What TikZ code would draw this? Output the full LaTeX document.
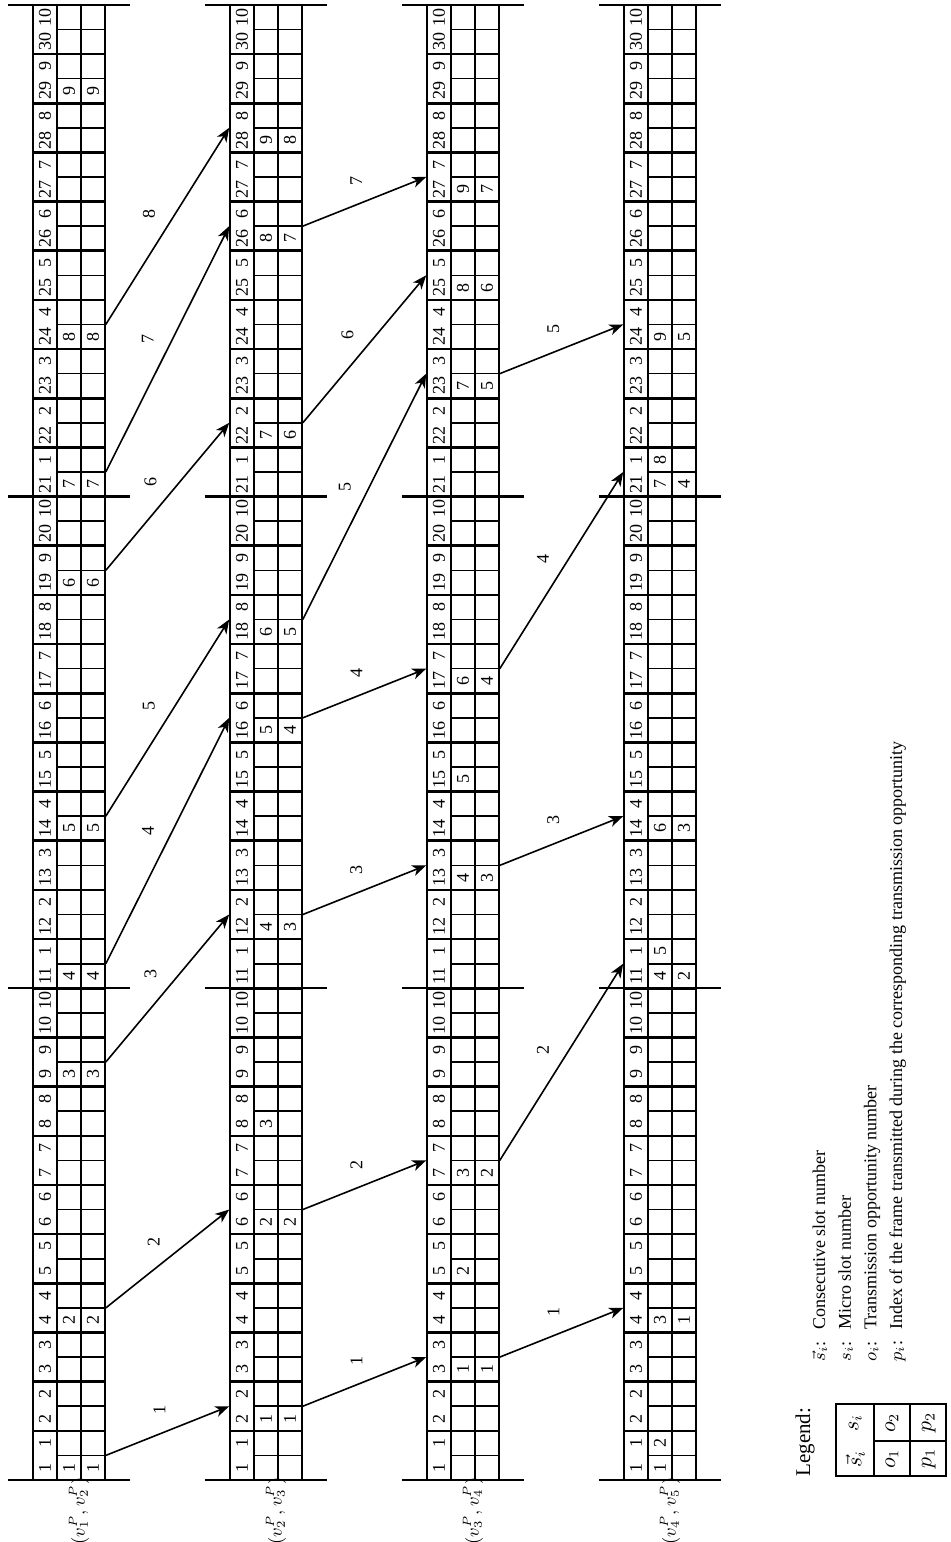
\documentclass[tikz,border=0pt]{standalone}
\usepackage{fontspec}
\setmainfont{Liberation Serif}
\usetikzlibrary{calc,arrows.meta}

\newcommand{\slotw}{49.17}

\begin{document}
\begin{tikzpicture}[x=0.5pt,y=0.5pt,rotate=90,transform shape,
  slot/.style={draw,line width=0.8pt,minimum width=24.585pt,minimum height=36pt,inner sep=0pt},
  cellline/.style={line width=0.8pt},
  slotsep/.style={line width=1.3pt},
  frame/.style={line width=1.1pt},
  num/.style={font=\fontsize{9}{10}\selectfont,inner sep=0pt},
  hoplbl/.style={font=\fontsize{9}{10}\selectfont,inner sep=0pt},
  lnk/.style={font=\fontsize{9}{10}\selectfont,inner sep=0pt},
  keytxt/.style={font=\fontsize{10.5}{12}\selectfont,inner sep=0pt},
  flow/.style={line width=0.8pt,-{Stealth[length=7pt,width=5.5pt,inset=2pt]}}]
\useasboundingbox (0,0) rectangle (1542,950);

\foreach \i in {1,...,4}{
  \pgfmathsetmacro{\yt}{917-197*(\i-1)}
  \foreach \k in {1,...,30}{
    \pgfmathsetmacro{\xl}{62+(\k-1)*\slotw}
    \pgfmathtruncatemacro{\m}{mod(\k-1,10)+1}
    \node[slot] (s\i-\k) at ({\xl+\slotw/2},{\yt-36}) {};
    \draw[cellline] (\xl,{\yt-24}) -- ++(\slotw,0) (\xl,{\yt-48}) -- ++(\slotw,0)
      ({\xl+\slotw/2},{\yt-24}) -- ({\xl+\slotw/2},{\yt-72});
    \draw[slotsep] (\xl,\yt) -- (\xl,{\yt-72});
    \node[num] at ({\xl+\slotw/4},{\yt-12}) {\k};
    \node[num] at ({\xl+3*\slotw/4},{\yt-12}) {\m};
  }
  \draw[slotsep] ({62+30*\slotw},\yt) -- ++(0,-72);
  \foreach \f in {0,10,20,30}
    \draw[frame] ({62+\f*\slotw},{\yt+25}) -- ({62+\f*\slotw},{\yt-97});
  \pgfmathtruncatemacro{\j}{\i+1}
  \node[lnk] (l\i) at (31,{\yt-46}) {$(v_{\i}^{P},v_{\j}^{P})$};
}

% o_1
\foreach \i/\k/\v in {1/1/1,1/4/2,1/9/3,1/11/4,1/14/5,1/19/6,1/21/7,1/24/8,1/29/9,
  2/2/1,2/6/2,2/8/3,2/12/4,2/16/5,2/18/6,2/22/7,2/26/8,2/28/9,
  3/3/1,3/5/2,3/7/3,3/13/4,3/15/5,3/17/6,3/23/7,3/25/8,3/27/9,
  4/1/1,4/4/3,4/11/4,4/14/6,4/21/7,4/24/9}
  \node[num] at ({62+(\k-1)*\slotw+\slotw/4},{917-197*(\i-1)-36}) {\v};
% o_2
\foreach \i/\k/\v in {4/1/2,4/11/5,4/21/8}
  \node[num] at ({62+(\k-1)*\slotw+3*\slotw/4},{917-197*(\i-1)-36}) {\v};
% p_1
\foreach \i/\k/\v in {1/1/1,1/4/2,1/9/3,1/11/4,1/14/5,1/19/6,1/21/7,1/24/8,1/29/9,
  2/2/1,2/6/2,2/12/3,2/16/4,2/18/5,2/22/6,2/26/7,2/28/8,
  3/3/1,3/7/2,3/13/3,3/17/4,3/23/5,3/25/6,3/27/7,
  4/4/1,4/11/2,4/14/3,4/21/4,4/24/5}
  \node[num] at ({62+(\k-1)*\slotw+\slotw/4},{917-197*(\i-1)-60}) {\v};

\foreach \i/\a/\b/\n in {1/1/2/1,1/4/6/2,1/9/12/3,1/11/16/4,1/14/18/5,1/19/22/6,1/21/26/7,1/24/28/8,
  2/2/3/1,2/6/7/2,2/12/13/3,2/16/17/4,2/18/23/5,2/22/25/6,2/26/27/7,
  3/3/4/1,3/7/11/2,3/13/14/3,3/17/21/4,3/23/24/5}{
  \pgfmathtruncatemacro{\j}{\i+1}
  \draw[flow] (s\i-\a.south) -- (s\j-\b.north);
  \node[hoplbl] at ($(s\i-\a.south)!.5!(s\j-\b.north)!11pt!90:(s\j-\b.north)$) {\n};
}

\node[keytxt,anchor=west] (leg) at (65,145) {Legend:};
\node[draw,line width=1.2pt,minimum width=36pt,minimum height=55pt,inner sep=0pt,anchor=south west] (key) at (65,3) {};
\draw[cellline,line width=1pt] (65,39.7) -- (137,39.7) (65,76.3) -- (137,76.3) (101,3) -- (101,76.3);
\node[keytxt] at (83,94.7) {$\vec{s}_i$};
\node[keytxt] at (119,94.7) {$s_i$};
\node[keytxt] at (83,58) {$o_1$};
\node[keytxt] at (119,58) {$o_2$};
\node[keytxt] at (83,21.3) {$p_1$};
\node[keytxt] at (119,21.3) {$p_2$};
\node[anchor=west,inner sep=0pt,font=\fontsize{9}{12.85}\selectfont] (desc) at (180,91.5) {%
  \begin{tabular}{@{}p{11pt}@{\hspace{5pt}}l@{}}
  $\vec{s}_i$: & Consecutive slot number\\
  $s_i$: & Micro slot number\\
  $o_i$: & Transmission opportunity number\\
  $p_i$: & Index of the frame transmitted during the corresponding transmission opportunity
  \end{tabular}};
\end{tikzpicture}
\end{document}
